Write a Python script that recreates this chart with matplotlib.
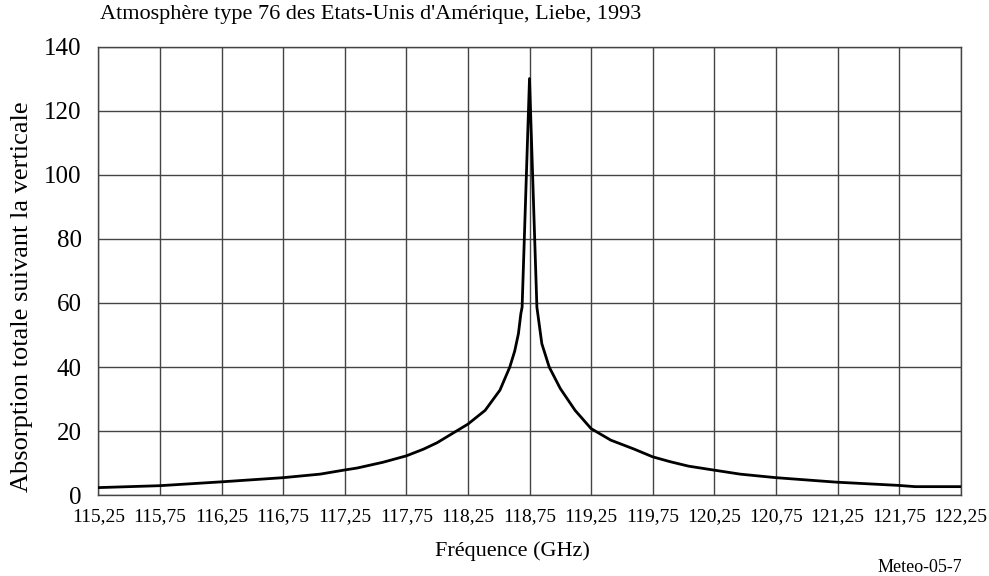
import matplotlib
matplotlib.use("Agg")
import numpy as np
import matplotlib.pyplot as plt

# Vertical total absorption around the 118.75 GHz oxygen line
freq_ghz = [115.25, 115.75, 116.25, 116.52, 116.75, 117.05, 117.25, 117.35,
            117.56, 117.75, 117.89, 118.00, 118.25, 118.39, 118.51, 118.59,
            118.63, 118.66, 118.68, 118.69, 118.75, 118.81, 118.85, 118.91,
            119.00, 119.12, 119.25, 119.41, 119.60, 119.75, 119.89, 120.04,
            120.24, 120.46, 120.75, 121.03, 121.24, 121.74, 121.88, 122.25]
absorption = [2.4, 3.0, 4.2, 4.9, 5.5, 6.6, 7.9, 8.5,
              10.3, 12.3, 14.4, 16.4, 22.2, 26.5, 32.8, 40.0,
              45.0, 50.4, 56.7, 58.7, 130.0, 58.7, 47.3, 40.0,
              33.3, 26.5, 20.8, 17.2, 14.4, 12.0, 10.5, 9.1,
              7.9, 6.6, 5.5, 4.7, 4.1, 3.1, 2.7, 2.7]

xticks = np.arange(115.25, 122.26, 0.5)
xtick_labels = [f"{v:.2f}".replace(".", ",") for v in xticks]
yticks = np.arange(0, 141, 20)

plt.rcParams["font.family"] = ["Liberation Serif", "DejaVu Serif"]

fig = plt.figure(figsize=(9.89, 5.76), dpi=100)
ax = fig.add_axes([98.3 / 989, 1 - 495.3 / 576, (960.7 - 98.3) / 989, (495.3 - 46.5) / 576])

ax.plot(freq_ghz, absorption, color="black", lw=2.0, zorder=3)

ax.set_xlim(115.25, 122.25)
ax.set_ylim(0, 140)
ax.set_xticks(xticks)
ax.set_xticklabels(xtick_labels, fontsize=14)
ax.set_yticks(yticks)
ax.tick_params(axis="y", labelsize=18, length=0, pad=12)
ax.tick_params(axis="x", length=0, pad=9)
ax.grid(True, color="#444444", lw=1.0)
for s in ax.spines.values():
    s.set_color("#444444")
    s.set_linewidth(1.0)

fig.text(100 / 989, 1 - 14 / 576, "Atmosphère type 76 des Etats-Unis d'Amérique, Liebe, 1993",
         fontsize=16, ha="left", va="center")
fig.text(22 / 989, 1 - 297 / 576, "Absorption totale suivant la verticale",
         fontsize=19, rotation=90, ha="center", va="center")
fig.text(512 / 989, 1 - 551 / 576, "Fréquence (GHz)", fontsize=16, ha="center", va="center")
fig.text(962 / 989, 1 - 567 / 576, "Meteo-05-7", fontsize=13, ha="right", va="center")

fig.savefig("out.png", dpi=100)
